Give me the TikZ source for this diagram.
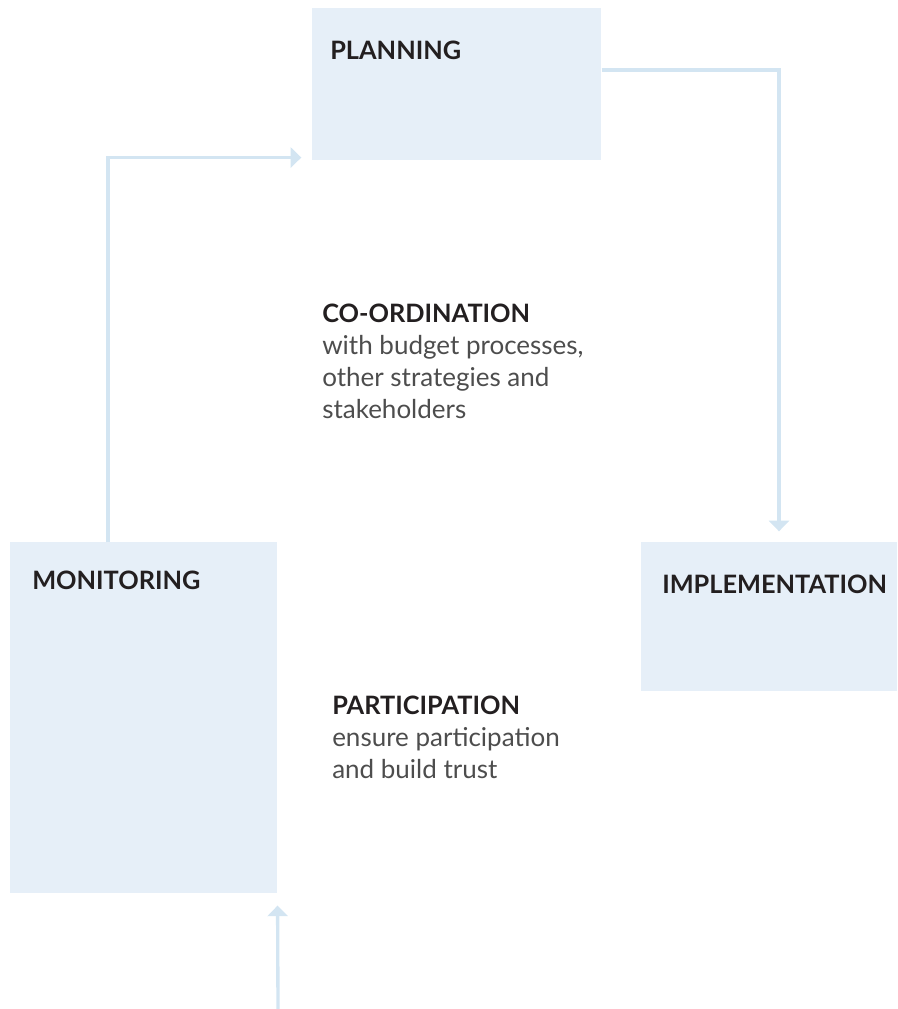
\documentclass[tikz,border=0pt]{standalone}
\usepackage{fontspec}
\setmainfont{Lato}
\usepackage{tikz}
\usetikzlibrary{arrows.meta}
\definecolor{boxblue}{HTML}{E6EFF8}
\definecolor{flowblue}{HTML}{D3E5F2}
\definecolor{inkdark}{HTML}{231F20}
\definecolor{inkgray}{HTML}{4D4D4D}
\newcommand\fsize{\fontsize{19.5pt}{24pt}\selectfont}
\newcommand\tsize{\fontsize{19pt}{24pt}\selectfont\bfseries}
\tikzset{stage/.style={rectangle,fill=boxblue,draw=none,anchor=north west,inner sep=0pt},
         title/.style={anchor=base west,inner sep=0pt,text=inkdark,font=\tsize},
         note/.style={anchor=base west,inner sep=0pt,text=inkgray,font=\fsize,align=left},
         flow/.style={draw=flowblue,line width=2.5pt,-{Triangle[length=8pt,width=15pt]}}}

\begin{document}
\begin{tikzpicture}[x=0.75pt,y=-0.75pt]
    \useasboundingbox (0,0) rectangle (897,1009);
    \node[stage, minimum width=289*0.75pt, minimum height=152*0.75pt] (plan) at (312,8) {};
    \node[stage, minimum width=267*0.75pt, minimum height=351*0.75pt] (mon) at (10,542) {};
    \node[stage, minimum width=256*0.75pt, minimum height=149*0.75pt] (impl) at (641,542) {};

    \node[title] (plant) at (330,60) {PLANNING};
    \node[title] (mont) at (32,589) {MONITORING};
    \node[title] (implt) at (662,593) {IMPLEMENTATION};

    \node[note] (coord) at (322,418) {{\tsize\color{inkdark}CO-ORDINATION}\\with budget processes,\\other strategies and\\stakeholders};
    \node[note] (part) at (332,778) {{\tsize\color{inkdark}PARTICIPATION}\\ensure participation\\and build trust};

    \coordinate (src) at (278,1009);
    \draw[flow, shorten >=8pt] ([xshift=98*0.75pt]mon.north west) |- ([yshift=2.25pt]plan.south west);
    \draw[flow, shorten >=8pt] ([yshift=-62*0.75pt]plan.north east) -| ([xshift=138*0.75pt]impl.north west);
    \draw[flow, shorten >=9pt] (src) -- (mon.south east);
\end{tikzpicture}
\end{document}
